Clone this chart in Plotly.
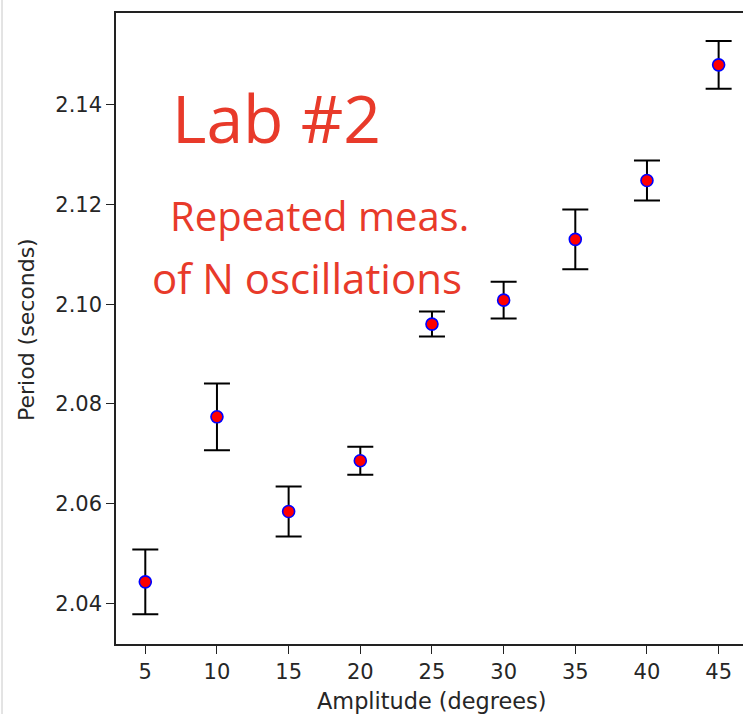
import plotly.graph_objects as go

# Data
amplitude = [5, 10, 15, 20, 25, 30, 35, 40, 45]
period = [2.0443, 2.0774, 2.0584, 2.0686, 2.0960, 2.1008, 2.1130, 2.1248, 2.1480]
period_err = [0.0065, 0.0067, 0.0050, 0.0028, 0.0025, 0.0037, 0.0060, 0.0040, 0.0048]

x_ticks = [5, 10, 15, 20, 25, 30, 35, 40, 45]
y_ticks = [2.04, 2.06, 2.08, 2.10, 2.12, 2.14]
y_tick_text = ["2.04", "2.06", "2.08", "2.10", "2.12", "2.14"]

notes = ["Lab #2", "Repeated meas.", "of N oscillations"]

W, H = 743, 714
L, R, T, B = 116, 0, 13, 70
PW, PH = W - L - R, H - T - B

def px(xp):
    return (xp - L) / PW

def py(yp):
    return (T + PH - yp) / PH

fig = go.Figure()
fig.add_trace(go.Scatter(
    x=amplitude, y=period,
    mode="markers",
    marker=dict(size=12, color="#ff0000", line=dict(color="#0000ff", width=1.6)),
    error_y=dict(type="data", array=period_err, visible=True,
                 color="black", thickness=2, width=13),
    showlegend=False,
))

axis_font = dict(family="DejaVu Sans", size=21, color="#262626")

fig.update_layout(
    width=W, height=H,
    margin=dict(l=L, r=R, t=T, b=B, pad=0),
    paper_bgcolor="white", plot_bgcolor="white",
    xaxis=dict(
        range=[2.956, 46.70], tickmode="array", tickvals=x_ticks,
        ticks="outside", ticklen=8, tickwidth=1.3, tickcolor="#222",
        showline=True, linecolor="#222", linewidth=1.5, mirror=True,
        showgrid=False, zeroline=False, tickfont=axis_font,
    ),
    yaxis=dict(
        range=[2.03183, 2.15840], tickmode="array", tickvals=y_ticks, ticktext=y_tick_text,
        ticks="outside", ticklen=8, tickwidth=1.3, tickcolor="#222",
        showline=True, linecolor="#222", linewidth=1.5, mirror=False,
        showgrid=False, zeroline=False, tickfont=axis_font,
    ),
)

annots = [
    dict(text="Amplitude (degrees)", x=px(431), y=py(701), xanchor="center", yanchor="middle",
         font=dict(family="DejaVu Sans", size=22.4, color="#262626")),
    dict(text="Period (seconds)", x=px(27), y=py(330), xanchor="center", yanchor="middle",
         textangle=-90, font=dict(family="DejaVu Sans", size=22, color="#262626")),
]
red = "#e83a2a"
note_pos = [(170, 117, 66), (168, 216, 40), (150, 277, 42)]
for txt, (xx, yy, sz) in zip(notes, note_pos):
    annots.append(dict(text=txt, x=px(xx), y=py(yy), xanchor="left", yanchor="middle",
                       font=dict(family="Open Sans", size=sz, color=red)))
for a in annots:
    a.update(xref="paper", yref="paper", showarrow=False)
fig.update_layout(annotations=annots)

fig.add_shape(type="line", xref="paper", yref="paper",
              x0=px(2), x1=px(2), y0=py(0), y1=py(714),
              line=dict(color="#c8c8c8", width=1))

fig.write_html("out.html",
               config={"displayModeBar": False},
               post_script="document.body.style.margin='0';document.body.style.padding='0';")
